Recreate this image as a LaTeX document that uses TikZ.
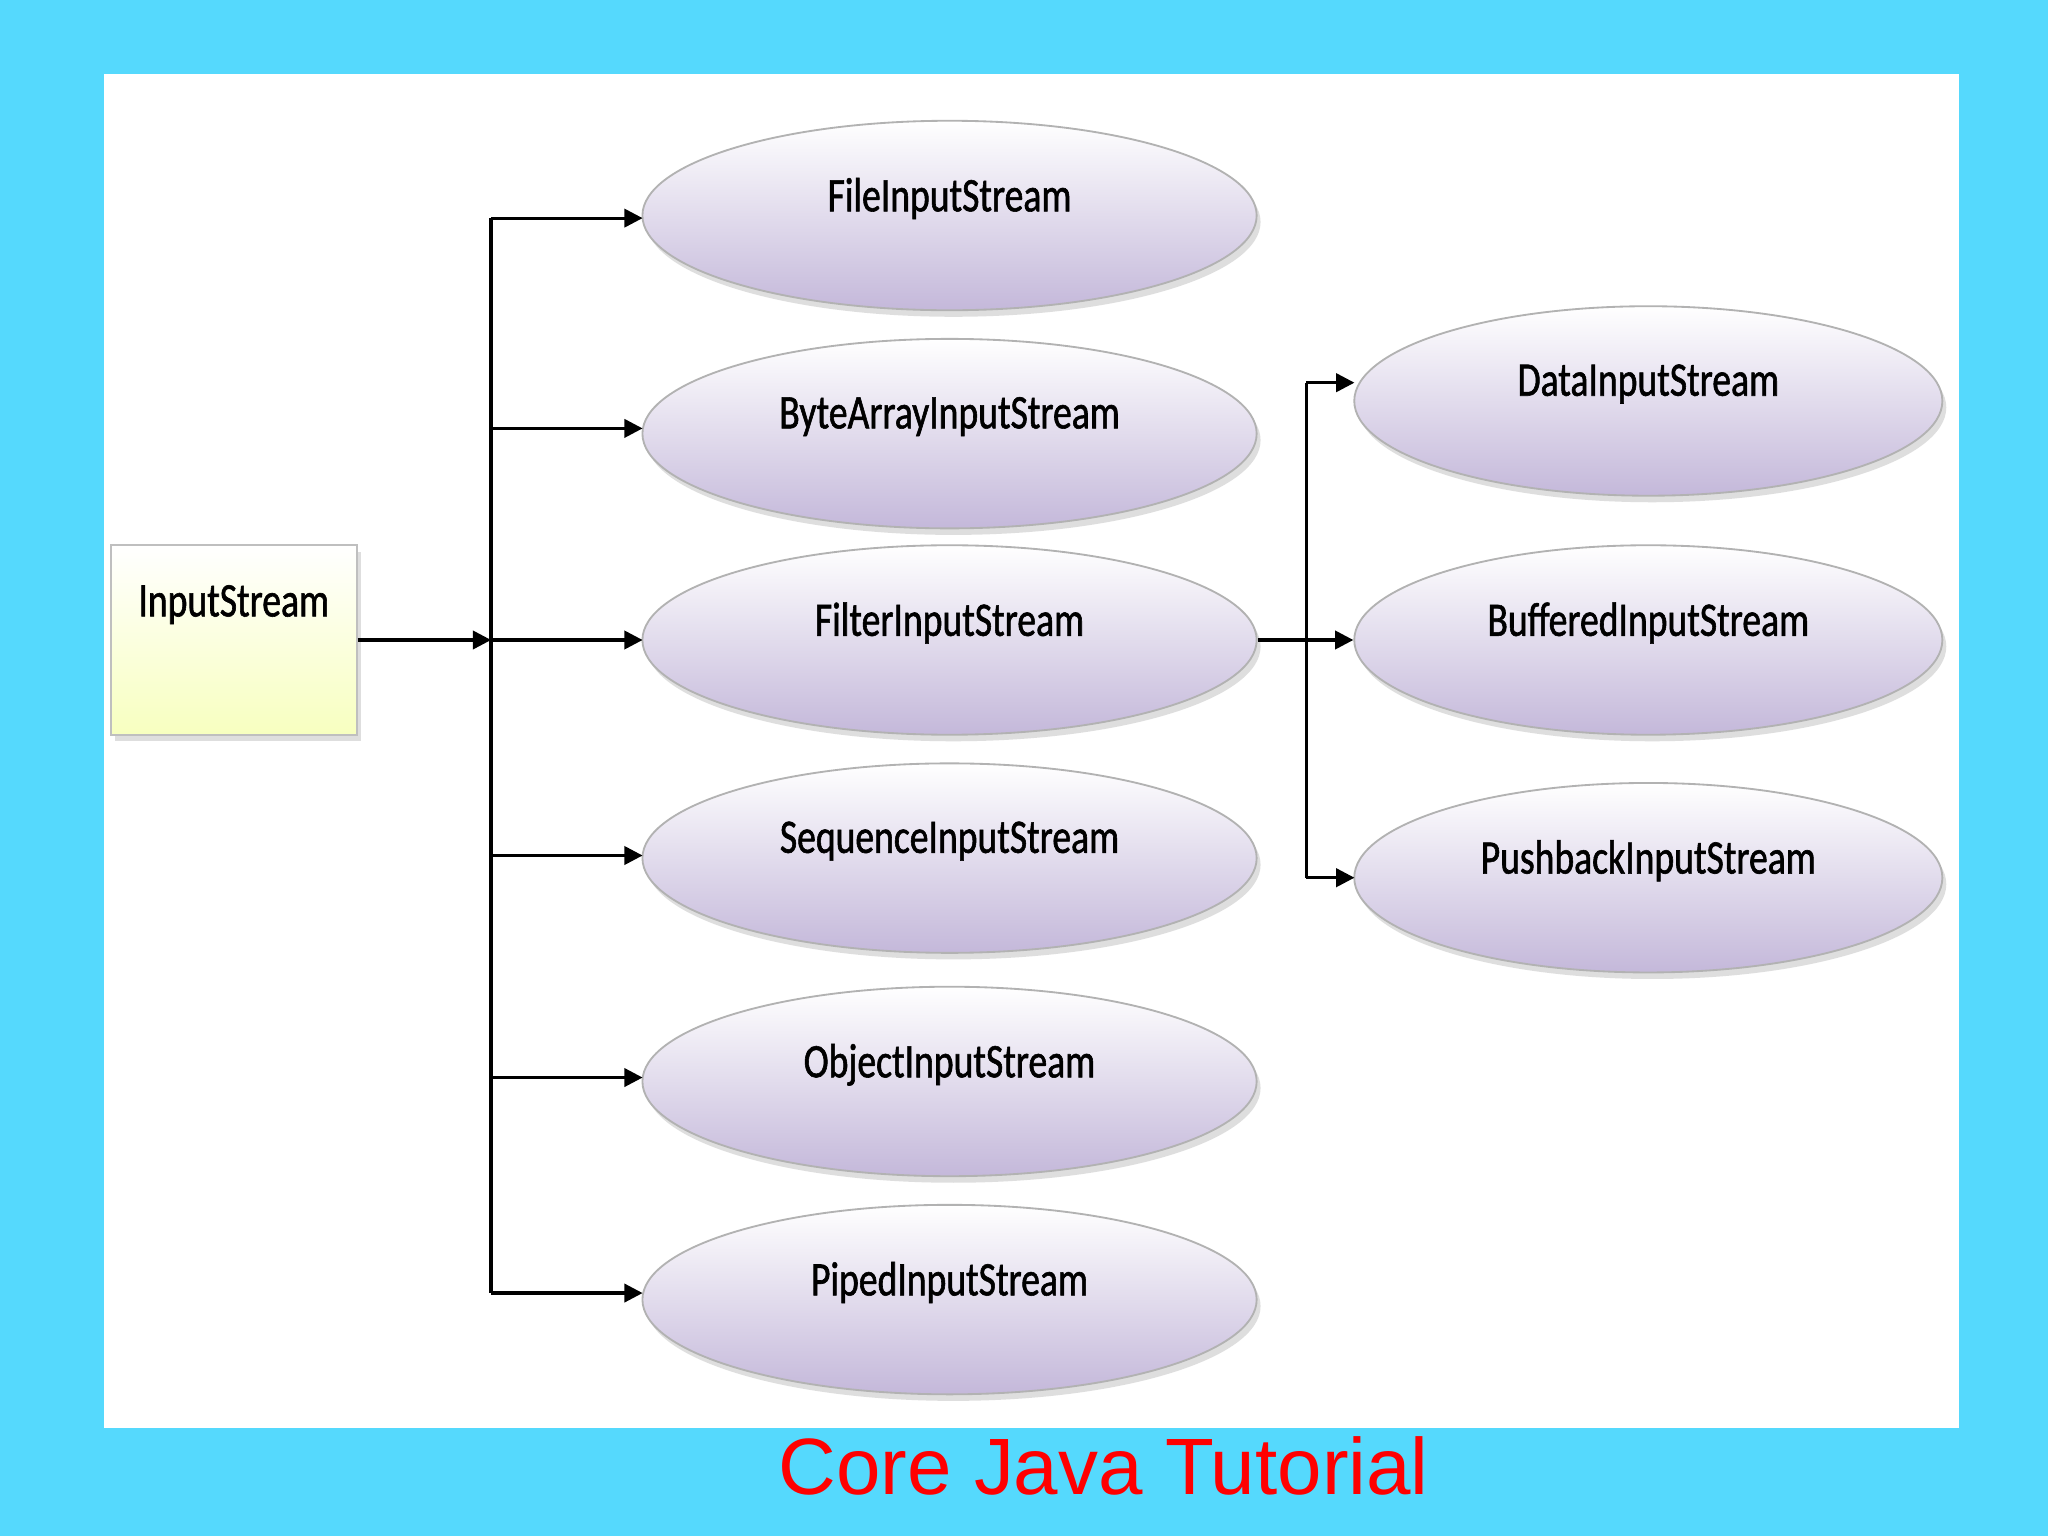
\documentclass[tikz,border=0pt]{standalone}
\usepackage{fontspec}
\setmainfont{Carlito}
\newfontfamily\cond[FakeStretch=0.78,FakeBold=1.2]{Carlito}
\newfontfamily\titlefont{Liberation Sans}
\usetikzlibrary{shapes.geometric,arrows.meta,shadows}
\definecolor{bgc}{HTML}{55D9FD}
\definecolor{lav}{HTML}{C4B8DA}
\newcommand{\up}[1]{\raisebox{3.2mm}{#1}}
\tikzset{
 ell/.style={ellipse,inner sep=0pt,minimum width=4.7cm,minimum height=1.45cm,draw=gray!60,top color=white,bottom color=lav,
   drop shadow={shadow xshift=0.03cm,shadow yshift=-0.05cm,fill=gray!50},font=\cond\fontsize{10.5}{12}\selectfont},
 arr/.style={-{Triangle[length=0.14cm,width=0.14cm]},line width=0.7pt},
 ln/.style={line width=0.7pt}
}
\begin{document}
\begin{tikzpicture}[x=0.01cm,y=-0.01cm]
\fill[bgc] (0,0) rectangle (1568,1176);
\fill[white] (80,57) rectangle (1500,1093);
\node[draw=gray!50,inner sep=0pt,minimum width=1.88cm,minimum height=1.45cm,top color=white,bottom color=green!12!yellow!25,
  drop shadow={shadow xshift=0.03cm,shadow yshift=-0.05cm,fill=gray!50},font=\cond\fontsize{10.5}{12}\selectfont] (is) at (179,490) {\raisebox{6mm}{InputStream}};
\node[ell] (f) at (727,165) {\up{FileInputStream}};
\node[ell] (b) at (727,332) {\up{ByteArrayInputStream}};
\node[ell] (fi) at (727,490) {\up{FilterInputStream}};
\node[ell] (s) at (727,657) {\up{SequenceInputStream}};
\node[ell] (o) at (727,828) {\up{ObjectInputStream}};
\node[ell] (p) at (727,995) {\up{PipedInputStream}};
\node[ell,minimum width=4.5cm] (d) at (1262,307) {\up{DataInputStream}};
\node[ell,minimum width=4.5cm] (bu) at (1262,490) {\up{BufferedInputStream}};
\node[ell,minimum width=4.5cm] (pu) at (1262,672) {\up{PushbackInputStream}};
\coordinate (t1) at (376,167);
\coordinate (t2) at (376,990);
\draw[ln] (t1) -- (t2);
\draw[arr] (is.east) -- (376,490);
\foreach \n/\y in {f/167,b/328,fi/490,s/655,o/825,p/990}
  \draw[arr] (376,\y) -- (492,\y);
\draw[ln] (1000,293) -- (1000,672);
\draw[arr] (fi.east) -- (bu.west);
\draw[arr] (1000,293) -- (1037,293);
\draw[arr] (1000,672) -- (1037,672);
\node[text=red,font=\titlefont\fontsize{17.4}{20}\selectfont] (t) at (845,1122) {Core Java Tutorial};
\end{tikzpicture}
\end{document}
